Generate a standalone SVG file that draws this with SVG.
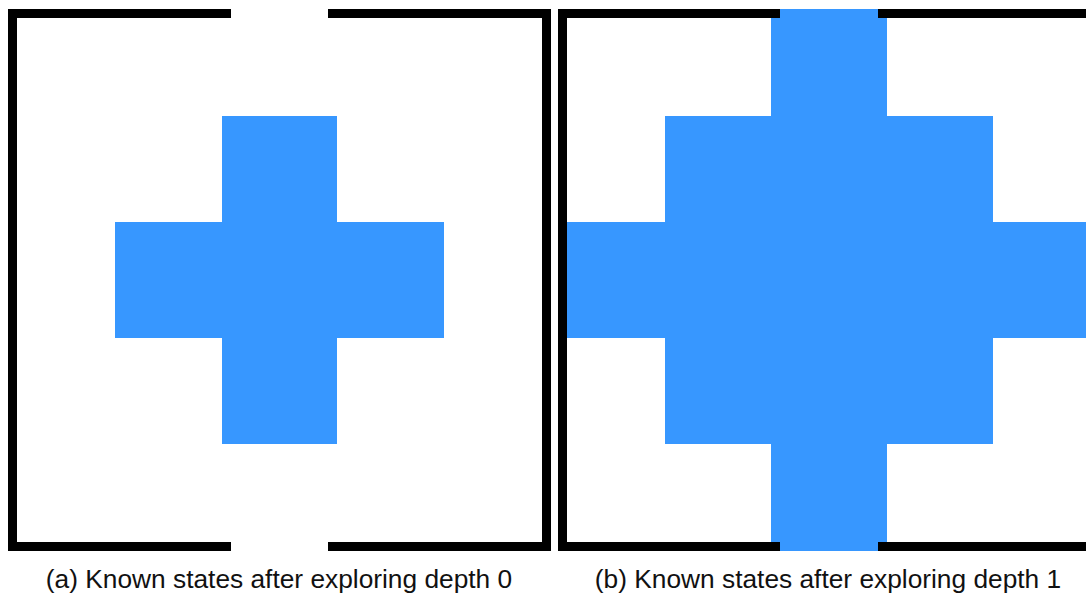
<svg xmlns="http://www.w3.org/2000/svg" width="1086" height="593" viewBox="0 0 1086 593">
<style>
.cell{fill:#3797ff}
.wall{fill:none;stroke:#000;stroke-width:9;stroke-linejoin:miter;stroke-linecap:butt}
.cap{font-family:"Liberation Sans",Arial,sans-serif;font-size:26.3px;fill:#111;text-anchor:middle}
</style>
<rect width="1086" height="593" fill="#fff"/>
<g id="panel-a">
  <g id="known-a">
    <rect class="cell" x="222" y="116" width="115" height="328"/>
    <rect class="cell" x="115" y="222" width="329" height="116"/>
  </g>
  <g id="walls-a">
    <path class="wall" d="M231,13.5 H12.5 V546.5 H231"/>
    <path class="wall" d="M328,13.5 H546.5 V546.5 H328"/>
  </g>
  <text id="caption-a" class="cap" x="279" y="588">(a) Known states after exploring depth 0</text>
</g>
<g id="panel-b">
  <g id="known-b">
    <rect class="cell" x="771" y="9" width="116" height="542"/>
    <rect class="cell" x="665" y="116" width="328" height="328"/>
    <rect class="cell" x="558" y="222" width="528" height="116"/>
  </g>
  <g id="walls-b">
    <path class="wall" d="M780,13.5 H562.5 V546.5 H780"/>
    <path class="wall" d="M878,13.5 H1100 M878,546.5 H1100"/>
  </g>
  <text id="caption-b" class="cap" x="828" y="588">(b) Known states after exploring depth 1</text>
</g>
<g id="connectors"/>
</svg>
